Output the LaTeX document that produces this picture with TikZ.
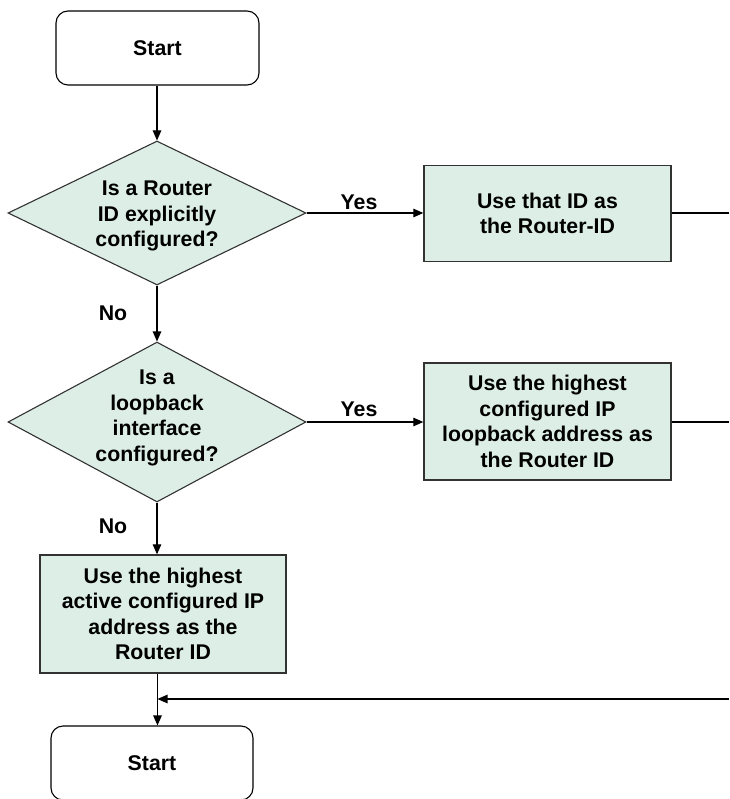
\documentclass[tikz,border=0pt]{standalone}
\usepackage{fontspec}
\setmainfont{Liberation Sans}
\usetikzlibrary{shapes.geometric,arrows.meta}
\definecolor{boxfill}{RGB}{221,238,231}
\definecolor{edge}{RGB}{50,50,50}
\tikzset{
  txt/.style={font=\fontsize{21.3}{25.5}\selectfont\bfseries, align=center, text=black},
  term/.style={draw=black, line width=1.1pt, rounded corners=12pt, minimum width=203pt, minimum height=74pt, inner sep=0pt, txt},
  procbox/.style={draw=edge, fill=boxfill, line width=1.3pt, minimum width=247pt, inner sep=0pt, txt},
  dia/.style={draw=edge, fill=boxfill, line width=1.1pt, diamond, inner sep=0pt, minimum width=298pt},
  conn/.style={line width=1.1pt, -{Triangle[length=10pt,width=8.5pt]}},
  plain/.style={line width=1.1pt},
  lbl/.style={txt}
}
\begin{document}
\begin{tikzpicture}[x=1pt,y=-1pt]
\useasboundingbox (0,0) rectangle (729,799);

\node[term] (start1) at (157.5,48) {Start};

\node[dia, minimum height=144pt] (d1) at (157,213) {};
\node[txt] (d1t) at (157,216) {Is a Router\\ID explicitly\\configured?};

\node[procbox, minimum height=96pt] (b1) at (547.5,213.5) {Use that ID as\\the Router-ID};

\node[dia, minimum height=160pt] (d2) at (157,422) {};
\node[txt] (d2t) at (157,418) {Is a\\loopback\\interface\\configured?};

\node[procbox, minimum height=117pt] (b2) at (547.5,421.5) {Use the highest\\configured IP\\loopback address as\\the Router ID};

\node[procbox, minimum width=246pt, minimum height=118pt] (b3) at (163,614) {Use the highest\\active configured IP\\address as the\\Router ID};

\node[term, minimum width=202pt] (start2) at (152,763) {Start};

\node[lbl] (yes1) at (359,202) {Yes};
\node[lbl] (yes2) at (359,409) {Yes};
\node[lbl] (no1) at (113,313) {No};
\node[lbl] (no2) at (113,526) {No};

\coordinate (e1) at (729,213);
\coordinate (e2) at (729,422);
\coordinate (e3) at (729,699);
\coordinate (j) at (157.5,699);

\draw[conn] (start1.south -| d1.north) -- (d1.north);
\draw[conn] (d1.east) -- (d1.east -| b1.west);
\draw[plain] (b1.east |- e1) -- (e1);
\draw[conn] (d1.south) -- (d2.north);
\draw[conn] (d2.east) -- (d2.east -| b2.west);
\draw[plain] (b2.east |- e2) -- (e2);
\draw[conn] (d2.south) -- (d2.south |- b3.north);
\draw[plain] (b3.south -| j) -- (j);
\draw[conn] (j) -- (start2.north -| j);
\draw[conn] (e3) -- (j);
\end{tikzpicture}
\end{document}
